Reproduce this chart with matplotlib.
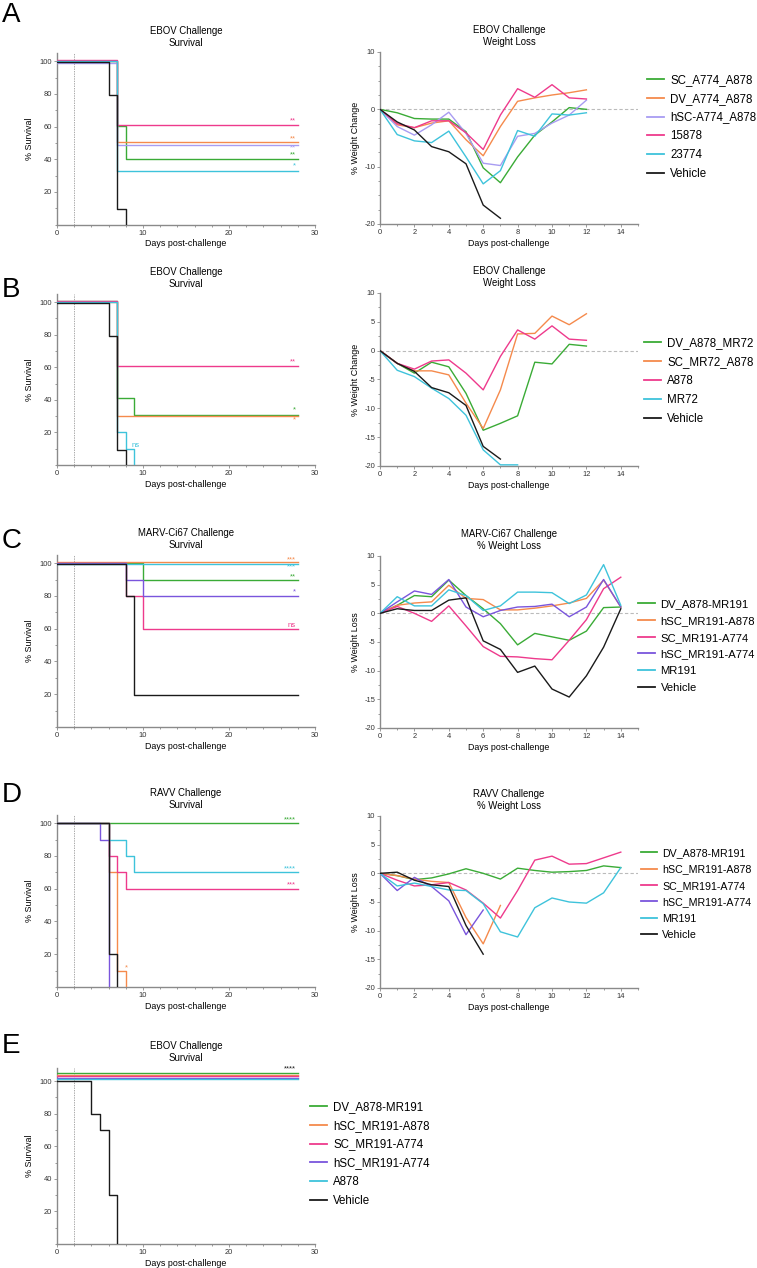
import matplotlib
matplotlib.use('Agg')
import matplotlib.pyplot as plt
from matplotlib.ticker import MultipleLocator
from matplotlib.lines import Line2D

plt.rcParams['font.family'] = ['Liberation Sans', 'DejaVu Sans']
plt.rcParams['axes.unicode_minus'] = False

GREEN = '#3aab36'
ORANGE = '#f58a4c'
LAV = '#a89cf2'
PINK = '#ee3a8c'
CYAN = '#3ec3db'
PURPLE = '#7a55dc'
BLACK = '#1a1a1a'

# ---------------- panel A : EBOV ----------------
a_groups = ['SC_A774_A878', 'DV_A774_A878', 'hSC-A774_A878', '15878', '23774', 'Vehicle']
a_colors = [GREEN, ORANGE, LAV, PINK, CYAN, BLACK]
a_surv_days = [[0, 7, 8], [0, 7], [0, 7], [0, 7], [0, 7], [0, 6, 7, 8]]
a_surv_pct = [[100, 60, 40], [100, 50], [100, 50], [100, 60], [100, 33], [100, 80, 10, 0]]
a_marks = ['**', '**', '**', '**', '*', '']
a_wt_days = [list(range(13))] * 5 + [list(range(8))]
a_wt = [
    [0, -0.6, -1.6, -1.7, -1.7, -3.9, -10.2, -12.8, -8.3, -4.5, -2.2, 0.3, 0.0],
    [0, -2.7, -3.2, -2.4, -2.0, -5.3, -8.1, -3.0, 1.4, 2.0, 2.5, 2.9, 3.4],
    [0, -3.0, -4.5, -2.7, -0.5, -4.2, -9.4, -9.8, -4.7, -4.2, -2.4, -1.0, 1.6],
    [0, -2.5, -3.2, -2.0, -2.0, -4.1, -7.0, -1.0, 3.6, 2.1, 4.3, 2.0, 1.8],
    [0, -4.4, -5.5, -5.8, -3.8, -8.3, -13.0, -10.7, -3.7, -4.7, -0.8, -1.0, -0.6],
    [0, -2.2, -3.6, -6.5, -7.4, -9.5, -16.7, -19.0],
]

# ---------------- panel B : EBOV ----------------
b_groups = ['DV_A878_MR72', 'SC_MR72_A878', 'A878', 'MR72', 'Vehicle']
b_colors = [GREEN, ORANGE, PINK, CYAN, BLACK]
b_surv_days = [[0, 7, 9], [0, 7], [0, 7], [0, 7, 8, 9], [0, 6, 7, 8]]
b_surv_pct = [[100, 40, 30], [100, 30], [100, 60], [100, 20, 10, 0], [100, 80, 10, 0]]
b_marks = ['*', '*', '**', 'ns', '']
b_wt_days = [list(range(13))] * 3 + [list(range(9)), list(range(8))]
b_wt = [
    [0, -2.2, -3.9, -2.0, -2.8, -7.4, -13.8, -12.6, -11.3, -2.0, -2.3, 1.1, 0.8],
    [0, -2.2, -3.5, -3.5, -4.2, -9.1, -13.5, -6.8, 2.9, 3.0, 6.0, 4.5, 6.4],
    [0, -2.2, -3.2, -1.8, -1.6, -3.9, -6.8, -1.0, 3.6, 2.0, 4.3, 2.0, 1.8],
    [0, -3.4, -4.5, -6.5, -8.3, -11.2, -17.2, -19.8, -19.8],
    [0, -2.2, -3.6, -6.4, -7.3, -9.5, -16.6, -18.8],
]

# ---------------- panel C : MARV-Ci67 ----------------
c_groups = ['DV_A878-MR191', 'hSC_MR191-A878', 'SC_MR191-A774', 'hSC_MR191-A774', 'MR191', 'Vehicle']
c_colors = [GREEN, ORANGE, PINK, PURPLE, CYAN, BLACK]
c_surv_days = [[0, 10], [0], [0, 8, 10], [0, 8, 10], [0], [0, 8, 9]]
c_surv_pct = [[100, 90], [100], [100, 80, 60], [100, 90, 80], [100], [100, 80, 20]]
c_marks = ['**', '***', 'ns', '*', '***', '']
c_wt_days = [list(range(15))] * 6
c_wt = [
    [0, 1.4, 3.1, 2.9, 5.8, 3.1, 0.8, -1.8, -5.5, -3.5, -4.1, -4.7, -3.1, 1.0, 1.1],
    [0, 1.4, 1.8, 2.0, 4.9, 2.6, 2.4, 0.6, 0.6, 0.9, 1.3, 1.8, 2.6, 5.8, 1.1],
    [0, 1.2, 0.0, -1.4, 1.3, -2.2, -5.8, -7.5, -7.6, -7.9, -8.1, -4.7, -1.1, 4.3, 6.3],
    [0, 2.0, 3.9, 3.3, 5.9, 1.1, -0.6, 0.5, 1.1, 1.2, 1.6, -0.6, 1.1, 5.9, 1.1],
    [0, 2.9, 1.3, 1.3, 4.1, 3.1, 0.5, 1.3, 3.7, 3.7, 3.6, 1.7, 3.2, 8.5, 1.4],
    [0, 0.8, 0.5, 0.5, 2.3, 2.7, -4.8, -6.3, -10.3, -9.2, -13.2, -14.6, -10.9, -5.9, 0.8],
]

# ---------------- panel D : RAVV ----------------
d_groups = ['DV_A878-MR191', 'hSC_MR191-A878', 'SC_MR191-A774', 'hSC_MR191-A774', 'MR191', 'Vehicle']
d_colors = [GREEN, ORANGE, PINK, PURPLE, CYAN, BLACK]
d_surv_days = [[0], [0, 6, 7, 8], [0, 6, 7, 8], [0, 5, 6], [0, 6, 8, 9], [0, 6, 7]]
d_surv_pct = [[100], [100, 70, 10, 0], [100, 80, 70, 60], [100, 90, 0], [100, 90, 80, 70], [100, 20, 0]]
d_marks = ['****', '*', '***', '', '****', '']
d_wt_days = [list(range(15)), list(range(8)), list(range(15)), list(range(7)), list(range(15)), list(range(7))]
d_wt = [
    [0, -0.4, -1.1, -0.8, -0.1, 0.8, 0.0, -1.0, 0.9, 0.5, 0.2, 0.3, 0.5, 1.3, 1.0],
    [0, -0.4, -1.0, -1.4, -1.6, -7.7, -12.3, -5.6],
    [0, -1.2, -2.2, -2.0, -1.6, -2.9, -5.2, -7.8, -3.0, 2.3, 3.0, 1.6, 1.7, 2.7, 3.7],
    [0, -3.0, -0.7, -2.3, -4.8, -10.7, -6.4],
    [0, -2.2, -1.7, -2.3, -2.9, -3.0, -5.3, -10.2, -11.1, -6.0, -4.3, -5.0, -5.2, -3.4, 1.0],
    [0, 0.2, -1.2, -2.0, -2.3, -9.1, -14.1],
]

# ---------------- panel E : EBOV ----------------
e_groups = ['DV_A878-MR191', 'hSC_MR191-A878', 'SC_MR191-A774', 'hSC_MR191-A774', 'A878', 'Vehicle']
e_colors = [GREEN, ORANGE, PINK, PURPLE, CYAN, BLACK]
e_surv_days = [[0], [0], [0], [0], [0], [0, 4, 5, 6, 7]]
e_surv_pct = [[100], [100], [100], [100], [100], [100, 80, 70, 30, 0]]
e_marks = ['****', '', '', '', '', '']

END_DAY = 28
W, H = 757, 1268
fig = plt.figure(figsize=(W / 100, H / 100), dpi=100)


def px_axes(left, top, right, bottom):
    return fig.add_axes([left / W, 1 - bottom / H, (right - left) / W, (bottom - top) / H])


def style(ax):
    for s in ['top', 'right']:
        ax.spines[s].set_visible(False)
    for s in ['left', 'bottom']:
        ax.spines[s].set_color('#8a8a8a')
        ax.spines[s].set_linewidth(1.0)
    ax.tick_params(which='both', direction='out', labelsize=5.4, colors='#8a8a8a',
                   labelcolor='#333333', width=0.6, pad=1)
    ax.tick_params(which='major', length=2.5)
    ax.tick_params(which='minor', length=1.5)


def survival(ax, title, days, pcts, colors, marks, nudge, mark_dy, top=105, mark_colors=None):
    mark_colors = mark_colors or colors
    for d, p, c, m, n, dy, mc in zip(days, pcts, colors, marks, nudge, mark_dy, mark_colors):
        x = list(d)
        y = [v + n if v > 0 else v for v in p]
        if p[-1] > 0:
            x.append(END_DAY)
            y.append(y[-1])
        ax.plot(x, y, drawstyle='steps-post', color=c, lw=1.0, zorder=3)
        if m:
            # surviving groups are marked at the right end, others where the curve ends
            if p[-1] > 0:
                ax.text(END_DAY - 0.2, y[-1] + dy, m, color=mc, fontsize=5.5,
                        ha='right', va='center')
            else:
                ax.text(x[-1] + 0.1, y[-1] + dy, m, color=mc, fontsize=5.5,
                        ha='center', va='center')
    ax.axvline(2, color='#888888', ls=(0, (2, 1.5)), lw=0.5, zorder=1)
    ax.set_xlim(0, 30)
    ax.set_ylim(0, top)
    ax.set_xticks([0, 10, 20, 30])
    ax.xaxis.set_minor_locator(MultipleLocator(2))
    ax.set_yticks([20, 40, 60, 80, 100])
    ax.yaxis.set_minor_locator(MultipleLocator(10))
    ax.set_title(title, fontsize=6.9, pad=5, linespacing=1.2)
    ax.set_xlabel('Days post-challenge', fontsize=6.4, labelpad=2)
    ax.set_ylabel('% Survival', fontsize=6.4, labelpad=4)
    style(ax)


def weight(ax, title, ylabel, days, vals, colors, ymajor):
    ax.axhline(0, color='#bbbbbb', ls=(0, (3, 2)), lw=0.8, zorder=1)
    for d, v, c in zip(days, vals, colors):
        ax.plot(d, v, color=c, lw=1.0, zorder=3)
    ax.set_xlim(0, 15)
    ax.set_ylim(-20, 10)
    ax.set_xticks(range(0, 15, 2))
    ax.xaxis.set_minor_locator(MultipleLocator(1))
    ax.yaxis.set_major_locator(MultipleLocator(ymajor))
    ax.yaxis.set_minor_locator(MultipleLocator(2.5))
    ax.set_title(title, fontsize=6.9, pad=5, linespacing=1.2)
    ax.set_xlabel('Days post-challenge', fontsize=6.4, labelpad=2)
    ax.set_ylabel(ylabel, fontsize=6.4, labelpad=3)
    style(ax)


def legend(groups, colors, x, yc, size=8.3):
    handles = [Line2D([], [], color=c, lw=1.3) for c in colors]
    fig.legend(handles, groups, loc='center left', bbox_to_anchor=(x / W, 1 - yc / H),
               frameon=False, fontsize=size, handlelength=1.5, handletextpad=0.5,
               labelspacing=0.6, borderpad=0, borderaxespad=0)


def letter(t, y):
    fig.text(2 / W, 1 - y / H, t, fontsize=20, va='baseline', ha='left')


# A
ax = px_axes(57, 53, 315, 224.7)
survival(ax, 'EBOV Challenge\nSurvival', a_surv_days, a_surv_pct, a_colors, a_marks,
         [0.4, 0.3, -1, 1, 0, -0.5], [2.2, 2.2, -1.8, 2.2, 3, 0])
ax = px_axes(380, 52, 638, 224)
weight(ax, 'EBOV Challenge\nWeight Loss', '% Weight Change', a_wt_days, a_wt, a_colors, 10)
legend(a_groups, a_colors, 647, 127)
letter('A', 22)

# B
ax = px_axes(57, 294, 315, 465)
survival(ax, 'EBOV Challenge\nSurvival', b_surv_days, b_surv_pct, b_colors, b_marks,
         [1, 0, 1, 0, -0.5], [3, -2.5, 2.2, 12, 0])
ax = px_axes(380, 293, 638, 466)
weight(ax, 'EBOV Challenge\nWeight Loss', '% Weight Change', b_wt_days, b_wt, b_colors, 5)
legend(b_groups, b_colors, 644, 381)
letter('B', 297)

# C
ax = px_axes(57, 555, 315, 727)
survival(ax, 'MARV-Ci67 Challenge\nSurvival', c_surv_days, c_surv_pct, c_colors, c_marks,
         [0, 1, 0, 0, -0.5, -0.3], [1.8, 1.3, 2.2, 2.2, -1.6, 0])
ax = px_axes(380, 556, 638, 728)
weight(ax, 'MARV-Ci67 Challenge\n% Weight Loss', '% Weight Loss', c_wt_days, c_wt, c_colors, 5)
legend(c_groups, c_colors, 638, 646, size=8.1)
letter('C', 548)

# D
ax = px_axes(57, 815, 315, 987)
survival(ax, 'RAVV Challenge\nSurvival', d_surv_days, d_surv_pct, d_colors, d_marks,
         [0, 0, 0, 0, 0, 0], [2, 11.5, 2.2, 0, 2.2, 0])
ax = px_axes(380, 816, 638, 988)
weight(ax, 'RAVV Challenge\n% Weight Loss', '% Weight Loss', d_wt_days, d_wt, d_colors, 5)
legend(d_groups, d_colors, 641, 894, size=7.7)
letter('D', 802)

# E
ax = px_axes(57, 1068, 315, 1244)
survival(ax, 'EBOV Challenge\nSurvival', e_surv_days, e_surv_pct, e_colors, e_marks,
         [5, 4, 3, 2, 1, 0], [2.5, 0, 0, 0, 0, 0], top=108, mark_colors=[BLACK] * 6)
legend(e_groups, e_colors, 310, 1154)
letter('E', 1053)

fig.savefig('out.png', dpi=100)
